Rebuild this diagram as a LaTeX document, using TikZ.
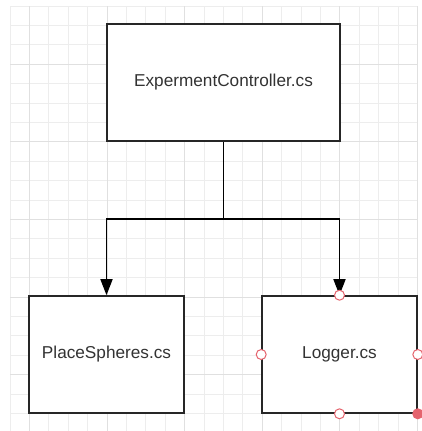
\documentclass[tikz,border=0pt]{standalone}
\usepackage{fontspec}
\setmainfont{Liberation Sans}
\usetikzlibrary{arrows.meta,positioning}
\definecolor{handlered}{HTML}{E5646E}
\tikzset{file node/.style={rectangle,draw=black!85,line width=1.6pt,fill=white,minimum width=155pt,minimum height=117pt,inner sep=0pt,font=\fontsize{17.2}{20}\selectfont,text=black!80},
         main file/.style={file node,minimum width=233pt},
         link/.style={draw=black,line width=1.7pt,-{Triangle[length=16pt,width=12pt]}},
         handle/.style={circle,draw=handlered,fill=white,line width=1pt,minimum size=10pt,inner sep=0pt},
         grid minor/.style={draw=black!7,line width=0.8pt},
         grid major/.style={draw=black!12,line width=0.8pt},
}

\begin{document}
\begin{tikzpicture}[x=1pt,y=-1pt]
\useasboundingbox (0,0) rectangle (422,431);
% background grid
\foreach \i in {0,...,21}{
    \draw[grid minor] (10+\i*19.4,6) -- (10+\i*19.4,431);
    \draw[grid minor] (10,6+\i*19.4) -- (417.4,6+\i*19.4);
}
\foreach \i in {1,5,9,13,17,21}
    \draw[grid major] (10+\i*19.4,6) -- (10+\i*19.4,431);
\foreach \i in {3,7,11,15,19}
    \draw[grid major] (10,6+\i*19.4) -- (417.4,6+\i*19.4);

\node [main file] (ctrl) at (223.5,82.5) {ExpermentController.cs};
\node [file node] (place) at (106.5,354.5) {PlaceSpheres.cs};
\node [file node] (log) at (339.5,354.5) {Logger.cs};
\coordinate (split) at (223.5,219);

\draw[line width=1.7pt] (ctrl.south) -- (split);
\draw[link] (split) -| (place.north);
\draw[link] (split) -| (log.north);

% selection handles
\foreach \a/\n in {north/hn,west/hw,east/he,south/hs}
    \node [handle] (\n) at (log.\a) {};
\node [handle,fill=handlered] (hse) at (log.south east) {};
\end{tikzpicture}
\end{document}
